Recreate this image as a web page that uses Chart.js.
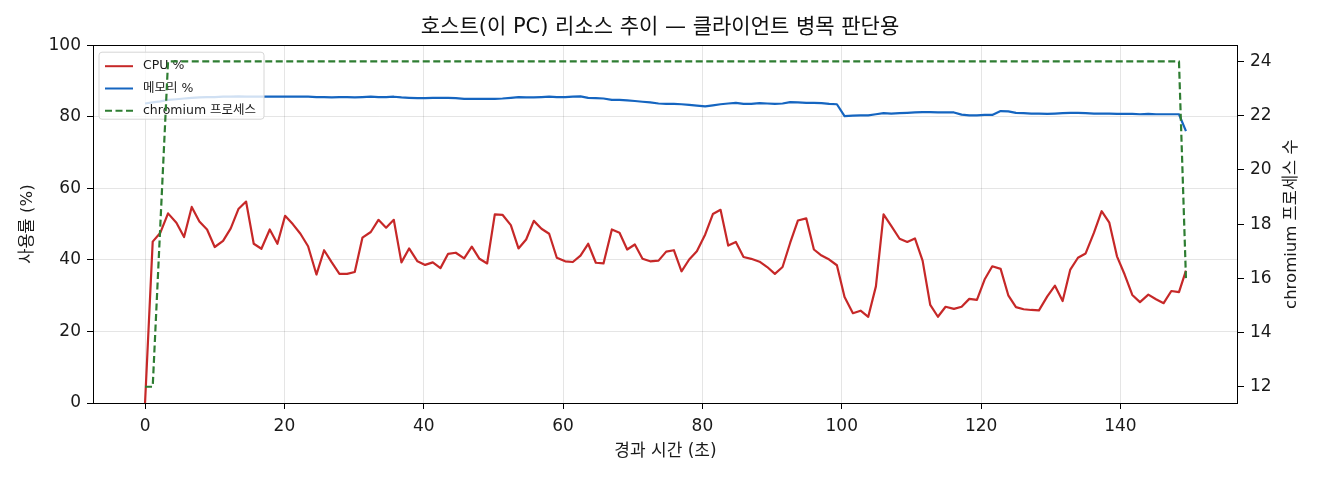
<!DOCTYPE html>
<html lang="ko">
<head>
<meta charset="utf-8">
<title>호스트 리소스 추이</title>
<script src="https://cdn.jsdelivr.net/npm/chart.js@4.4.1/dist/chart.umd.min.js"></script>
<style>
  html, body { margin: 0; padding: 0; background: #fff; }
  #wrap { width: 1320px; height: 480px; }
</style>
</head>
<body>
<div id="wrap"><canvas id="chart" width="1320" height="480"></canvas></div>
<script>
// --- DATI ---
const elapsedSec = [
  0, 1.1, 2.2, 3.3, 4.5, 5.6, 6.7, 7.8, 8.9, 10.0,
  11.2, 12.3, 13.4, 14.5, 15.6, 16.7, 17.9, 19.0, 20.1, 21.2,
  22.3, 23.4, 24.6, 25.7, 26.8, 27.9, 29.0, 30.1, 31.2, 32.4,
  33.5, 34.6, 35.7, 36.8, 37.9, 39.1, 40.2, 41.3, 42.4, 43.5,
  44.6, 45.8, 46.9, 48.0, 49.1, 50.2, 51.3, 52.5, 53.6, 54.7,
  55.8, 56.9, 58.0, 59.1, 60.3, 61.4, 62.5, 63.6, 64.7, 65.8,
  67.0, 68.1, 69.2, 70.3, 71.4, 72.5, 73.7, 74.8, 75.9, 77.0,
  78.1, 79.2, 80.4, 81.5, 82.6, 83.7, 84.8, 85.9, 87.0, 88.2,
  89.3, 90.4, 91.5, 92.6, 93.7, 94.9, 96.0, 97.1, 98.2, 99.3,
  100.4, 101.6, 102.7, 103.8, 104.9, 106.0, 107.1, 108.3, 109.4, 110.5,
  111.6, 112.7, 113.8, 114.9, 116.1, 117.2, 118.3, 119.4, 120.5, 121.6,
  122.8, 123.9, 125.0, 126.1, 127.2, 128.3, 129.5, 130.6, 131.7, 132.8,
  133.9, 135.0, 136.2, 137.3, 138.4, 139.5, 140.6, 141.7, 142.8, 144.0,
  145.1, 146.2, 147.3, 148.4, 149.4
];

const cpuPct = [
  0, 45.1, 47.6, 53.0, 50.4, 46.4, 54.8, 50.7, 48.5, 43.6,
  45.3, 48.8, 54.2, 56.3, 44.5, 43.1, 48.5, 44.5, 52.3, 50.0,
  47.3, 43.8, 35.9, 42.7, 39.3, 36.1, 36.1, 36.6, 46.2, 47.8,
  51.2, 49.0, 51.2, 39.3, 43.2, 39.6, 38.6, 39.3, 37.7, 41.7,
  42.0, 40.4, 43.7, 40.3, 39.0, 52.7, 52.6, 49.7, 43.2, 45.7,
  50.9, 48.7, 47.3, 40.6, 39.6, 39.4, 41.2, 44.5, 39.2, 39.0,
  48.5, 47.6, 42.9, 44.3, 40.3, 39.6, 39.8, 42.3, 42.7, 36.8,
  40.1, 42.4, 47.1, 52.8, 54.0, 44.0, 45.0, 40.8, 40.3, 39.5,
  38.0, 36.1, 38.0, 44.8, 51.0, 51.6, 42.9, 41.2, 40.1, 38.5,
  29.6, 25.1, 25.8, 24.1, 32.6, 52.7, 49.5, 45.9, 45.0, 46.0,
  39.8, 27.4, 24.1, 26.9, 26.3, 26.9, 29.1, 28.8, 34.5, 38.2,
  37.5, 30.1, 26.8, 26.2, 26.0, 25.9, 29.8, 32.8, 28.5, 37.3,
  40.6, 41.8, 47.6, 53.6, 50.4, 41.0, 35.9, 30.2, 28.2, 30.3,
  29.0, 27.9, 31.3, 31.0, 37.0
];

const memPct = [
  83.7, 84.0, 84.3, 84.7, 84.9, 85.1, 85.3, 85.4, 85.5, 85.5,
  85.6, 85.6, 85.7, 85.6, 85.6, 85.6, 85.6, 85.6, 85.6, 85.6,
  85.6, 85.6, 85.5, 85.5, 85.4, 85.5, 85.5, 85.4, 85.5, 85.6,
  85.5, 85.5, 85.6, 85.4, 85.3, 85.2, 85.2, 85.3, 85.3, 85.3,
  85.2, 85.0, 85.0, 85.0, 85.0, 85.0, 85.1, 85.3, 85.5, 85.4,
  85.4, 85.5, 85.6, 85.5, 85.5, 85.6, 85.7, 85.3, 85.2, 85.1,
  84.7, 84.7, 84.6, 84.4, 84.2, 84.0, 83.7, 83.6, 83.6, 83.5,
  83.3, 83.1, 82.9, 83.2, 83.5, 83.7, 83.9, 83.6, 83.6, 83.8,
  83.7, 83.6, 83.7, 84.1, 84.0, 83.9, 83.9, 83.8, 83.6, 83.5,
  80.2, 80.3, 80.4, 80.4, 80.7, 81.0, 80.9, 81.0, 81.1, 81.2,
  81.3, 81.3, 81.2, 81.2, 81.2, 80.6, 80.4, 80.4, 80.5, 80.5,
  81.6, 81.5, 81.1, 81.0, 80.9, 80.9, 80.8, 80.9, 81.0, 81.1,
  81.1, 81.0, 80.9, 80.9, 80.9, 80.8, 80.8, 80.8, 80.7, 80.8,
  80.7, 80.7, 80.7, 80.7, 76.0
];

const chromiumProcs = [
  12, 12, 18, 24, 24, 24, 24, 24, 24, 24,
  24, 24, 24, 24, 24, 24, 24, 24, 24, 24,
  24, 24, 24, 24, 24, 24, 24, 24, 24, 24,
  24, 24, 24, 24, 24, 24, 24, 24, 24, 24,
  24, 24, 24, 24, 24, 24, 24, 24, 24, 24,
  24, 24, 24, 24, 24, 24, 24, 24, 24, 24,
  24, 24, 24, 24, 24, 24, 24, 24, 24, 24,
  24, 24, 24, 24, 24, 24, 24, 24, 24, 24,
  24, 24, 24, 24, 24, 24, 24, 24, 24, 24,
  24, 24, 24, 24, 24, 24, 24, 24, 24, 24,
  24, 24, 24, 24, 24, 24, 24, 24, 24, 24,
  24, 24, 24, 24, 24, 24, 24, 24, 24, 24,
  24, 24, 24, 24, 24, 24, 24, 24, 24, 24,
  24, 24, 24, 24, 16
];

const xTicks = [0, 20, 40, 60, 80, 100, 120, 140];
const leftTicks = [0, 20, 40, 60, 80, 100];
const rightTicks = [12, 14, 16, 18, 20, 22, 24];

const seriesLabels = ['CPU %', '메모리 %', 'chromium 프로세스'];
const titleText = '호스트(이 PC) 리소스 추이 — 클라이언트 병목 판단용';
const xTitle = '경과 시간 (초)';
const yLeftTitle = '사용률 (%)';
const yRightTitle = 'chromium 프로세스 수';

// --- STILE ---
const FONT = "'DejaVu Sans', 'Noto Sans CJK KR', sans-serif";
const RED = '#c62828';
const BLUE = '#1565c0';
const GREEN = '#2e7d32';
const GRID = 'rgba(0,0,0,0.1)';
const INK = '#1a1a1a';

Chart.defaults.font.family = FONT;
Chart.defaults.color = INK;

function toPoints(values) {
    return values.map((v, i) => ({ x: elapsedSec[i], y: v }));
}

function fixedTicks(list) {
    return scale => { scale.ticks = list.map(v => ({ value: v })); };
}

// cornice attorno all'area del grafico
const frame = {
    id: 'frame',
    afterDraw(chart) {
        const { ctx, chartArea: a } = chart;
        ctx.save();
        ctx.strokeStyle = '#000';
        ctx.lineWidth = 1;
        ctx.strokeRect(Math.round(a.left) + 0.5, Math.round(a.top) + 0.5,
            Math.round(a.right - a.left) - 1, Math.round(a.bottom - a.top));
        ctx.restore();
    }
};

// titolo dell'asse destro, letto dal basso verso l'alto
const rightTitle = {
    id: 'rightTitle',
    afterDraw(chart) {
        const { ctx, chartArea: a } = chart;
        ctx.save();
        ctx.translate(chart.width - 28, (a.top + a.bottom) / 2);
        ctx.rotate(-Math.PI / 2);
        ctx.font = '16.5px ' + FONT;
        ctx.fillStyle = INK;
        ctx.textAlign = 'center';
        ctx.textBaseline = 'middle';
        ctx.fillText(yRightTitle, 0, 0);
        ctx.restore();
    }
};

// legenda dentro l'area, disegnata sotto la linea verde
const legendBox = {
    id: 'legendBox',
    afterDatasetDraw(chart, args) {
        if (args.index !== 1) return;
        const { ctx, chartArea: a } = chart;
        const x = a.left + 6, y = a.top + 7, w = 165, h = 67;
        ctx.save();
        ctx.beginPath();
        if (ctx.roundRect) ctx.roundRect(x, y, w, h, 3); else ctx.rect(x, y, w, h);
        ctx.fillStyle = 'rgba(255,255,255,0.8)';
        ctx.fill();
        ctx.strokeStyle = '#d6d6d6';
        ctx.lineWidth = 1;
        ctx.stroke();
        chart.data.datasets.forEach((ds, i) => {
            const ly = y + 14 + i * 22.3;
            ctx.beginPath();
            ctx.setLineDash(ds.borderDash || []);
            ctx.strokeStyle = ds.borderColor;
            ctx.lineWidth = 2;
            ctx.moveTo(x + 6, ly);
            ctx.lineTo(x + 34, ly);
            ctx.stroke();
            ctx.setLineDash([]);
            ctx.fillStyle = INK;
            ctx.font = '12.5px ' + FONT;
            ctx.textBaseline = 'middle';
            ctx.fillText(ds.label, x + 44, ly);
        });
        ctx.restore();
    }
};

const ctx = document.getElementById('chart').getContext('2d');
new Chart(ctx, {
    type: 'line',
    data: {
        datasets: [
            {
                label: seriesLabels[0],
                data: toPoints(cpuPct),
                borderColor: RED,
                borderWidth: 2.2,
                yAxisID: 'y',
                order: 3
            },
            {
                label: seriesLabels[1],
                data: toPoints(memPct),
                borderColor: BLUE,
                borderWidth: 2.2,
                yAxisID: 'y',
                order: 2
            },
            {
                label: seriesLabels[2],
                data: toPoints(chromiumProcs),
                borderColor: GREEN,
                borderWidth: 2.2,
                borderDash: [7, 3.5],
                yAxisID: 'y2',
                order: 1
            }
        ]
    },
    options: {
        responsive: false,
        animation: false,
        events: [],
        elements: {
            point: { radius: 0 },
            line: { tension: 0, fill: false, borderJoinStyle: 'round' }
        },
        layout: { padding: 0 },
        plugins: {
            legend: { display: false },
            tooltip: { enabled: false },
            title: {
                display: true,
                text: titleText,
                color: '#111',
                font: { size: 21, weight: 'normal', family: FONT },
                padding: { top: 15, bottom: 5 }
            }
        },
        scales: {
            x: {
                type: 'linear',
                min: -7.47,
                max: 156.87,
                afterBuildTicks: fixedTicks(xTicks),
                afterFit: s => { s.height = 77; },
                grid: { color: GRID, tickColor: '#000', tickLength: 6, lineWidth: 1 },
                border: { display: false },
                ticks: { padding: 7, font: { size: 17 }, color: INK },
                title: {
                    display: true, text: xTitle, color: INK,
                    font: { size: 17 }, padding: { top: 0, bottom: 18 }
                }
            },
            y: {
                type: 'linear',
                position: 'left',
                min: 0,
                max: 100,
                afterBuildTicks: fixedTicks(leftTicks),
                afterFit: s => { s.width = 93; },
                grid: { color: GRID, tickColor: '#000', tickLength: 6, lineWidth: 1 },
                border: { display: false },
                ticks: { padding: 6, font: { size: 17 }, color: INK },
                title: {
                    display: true, text: yLeftTitle, color: INK,
                    font: { size: 16.5 }, padding: { top: 18, bottom: 0 }
                }
            },
            y2: {
                type: 'linear',
                position: 'right',
                min: 11.4,
                max: 24.6,
                afterBuildTicks: fixedTicks(rightTicks),
                afterFit: s => { s.width = 82; },
                grid: { drawOnChartArea: false, tickColor: '#000', tickLength: 6 },
                border: { display: false },
                ticks: { padding: 6, font: { size: 17 }, color: INK },
                title: { display: false }
            }
        }
    },
    plugins: [legendBox, frame, rightTitle]
});
</script>
</body>
</html>
